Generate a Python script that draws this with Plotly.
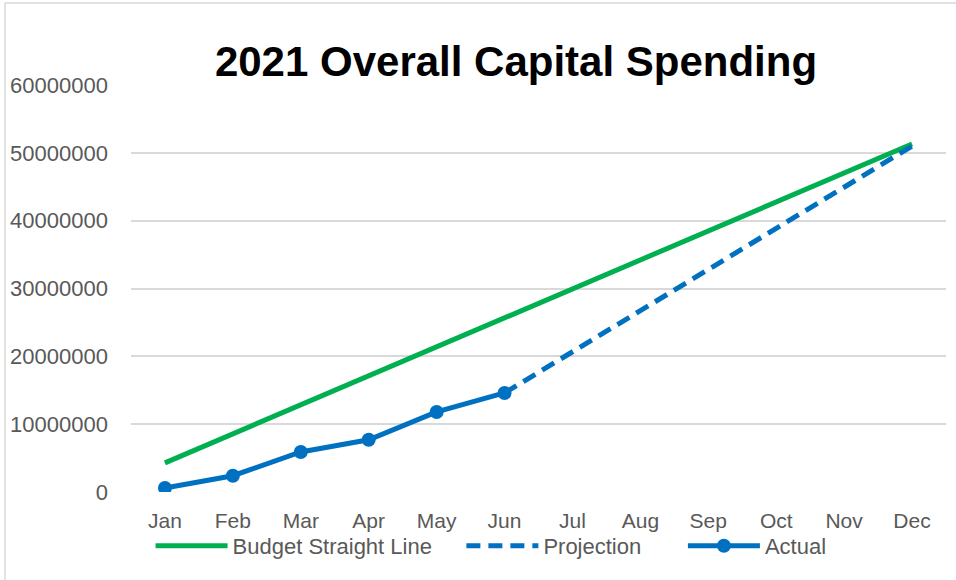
import plotly.graph_objects as go

months = ["Jan", "Feb", "Mar", "Apr", "May", "Jun", "Jul", "Aug", "Sep", "Oct", "Nov", "Dec"]
budget = [4300000, 8570000, 12840000, 17110000, 21380000, 25650000, 29920000,
          34190000, 38460000, 42730000, 47000000, 51300000]
projection_months = ["Jun", "Jul", "Aug", "Sep", "Oct", "Nov", "Dec"]
projection = [14600000, 20700000, 26700000, 32800000, 38900000, 44900000, 51000000]
actual_months = ["Jan", "Feb", "Mar", "Apr", "May", "Jun"]
actual = [600000, 2400000, 5900000, 7700000, 11800000, 14600000]
y_ticks = [0, 10000000, 20000000, 30000000, 40000000, 50000000, 60000000]

GREEN = "#00B050"
BLUE = "#0070C0"
FONT = "Liberation Sans, Arial, sans-serif"
GRAY_TXT = "#595959"

fig = go.Figure()
fig.add_trace(go.Scatter(x=months, y=budget, mode="lines",
                         name="Budget Straight Line" + "&nbsp;" * 4,
                         line=dict(color=GREEN, width=5)))
fig.add_trace(go.Scatter(x=projection_months, y=projection, mode="lines",
                         name="Projection" + "&nbsp;" * 6,
                         line=dict(color=BLUE, width=5, dash="14px,8px")))
fig.add_trace(go.Scatter(x=actual_months, y=actual, mode="lines+markers", name="Actual",
                         line=dict(color=BLUE, width=5),
                         marker=dict(color=BLUE, size=14)))

fig.update_layout(
    width=956, height=580,
    margin=dict(l=131, r=10, t=85, b=88),
    paper_bgcolor="white", plot_bgcolor="white",
    font=dict(family=FONT, size=22, color=GRAY_TXT),
    title=dict(text="<b>2021 Overall Capital Spending</b>", xref="container", yref="container",
               x=516 / 956, xanchor="center", y=1 - 61 / 580, yanchor="middle",
               font=dict(family=FONT, size=42, color="black")),
    showlegend=True,
    legend=dict(orientation="h", xref="paper", yref="paper", x=0.024, y=(492 - 546) / 407,
                xanchor="left", yanchor="middle", itemwidth=72,
                font=dict(family=FONT, size=22, color=GRAY_TXT),
                bgcolor="rgba(0,0,0,0)", traceorder="normal"),
    xaxis=dict(type="category", categoryorder="array", categoryarray=months,
               range=[-0.5, 11.5], showgrid=False, zeroline=False, showline=False,
               ticks="", ticklabelstandoff=14,
               tickfont=dict(family=FONT, size=21, color=GRAY_TXT)),
    yaxis=dict(range=[0, 60000000], tickvals=y_ticks, tickformat="d",
               showgrid=True, gridcolor="#d9d9d9", gridwidth=1.5,
               zeroline=False, showline=False, ticks="", ticklabelstandoff=22,
               tickfont=dict(family=FONT, size=22, color=GRAY_TXT)),
    shapes=[dict(type="rect", xref="paper", yref="paper",
                 x0=(5 - 131) / 815, x1=1.2, y0=-0.5, y1=(492 - 3) / 407,
                 line=dict(color="#d9d9d9", width=1.5), layer="below")],
)

fig.write_html("out.html")
